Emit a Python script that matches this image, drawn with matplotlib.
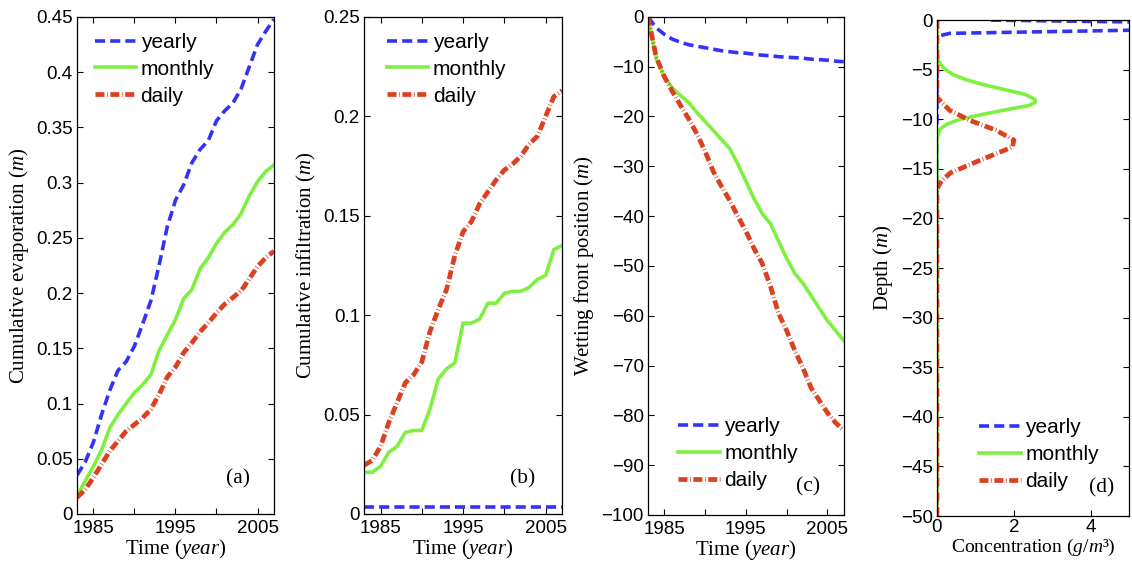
import numpy as np
import matplotlib.pyplot as plt

plt.rcParams['font.family'] = ['Liberation Sans', 'DejaVu Sans']
plt.rcParams['mathtext.fontset'] = 'custom'
plt.rcParams['mathtext.rm'] = 'Liberation Serif'
plt.rcParams['mathtext.it'] = 'Liberation Serif:italic'

# time axis (years) for panels a-c
years = np.arange(1983, 2008)

# (a) cumulative evaporation, m
evap_yearly = [0.035, 0.047, 0.065, 0.090, 0.112, 0.130, 0.138, 0.152, 0.172, 0.193,
               0.225, 0.260, 0.284, 0.298, 0.318, 0.330, 0.338, 0.356, 0.365, 0.372,
               0.385, 0.405, 0.425, 0.437, 0.448]
evap_monthly = [0.016, 0.030, 0.043, 0.058, 0.078, 0.090, 0.100, 0.110, 0.117, 0.126,
                0.148, 0.162, 0.176, 0.195, 0.203, 0.222, 0.232, 0.245, 0.255, 0.262,
                0.272, 0.288, 0.301, 0.310, 0.316]
evap_daily = [0.015, 0.022, 0.033, 0.045, 0.057, 0.066, 0.075, 0.081, 0.087, 0.095,
              0.108, 0.124, 0.133, 0.146, 0.155, 0.165, 0.173, 0.182, 0.190, 0.196,
              0.202, 0.213, 0.224, 0.232, 0.238]

# (b) cumulative infiltration, m
infil_yearly = [0.0035, 0.0035, 0.0035, 0.0035, 0.0035, 0.0035, 0.0035, 0.0035, 0.0035,
                0.0035, 0.0035, 0.0035, 0.0035, 0.0035, 0.0035, 0.0035, 0.0035, 0.0035,
                0.0035, 0.0035, 0.0035, 0.0035, 0.0035, 0.0035, 0.0035]
infil_monthly = [0.021, 0.021, 0.024, 0.031, 0.034, 0.041, 0.042, 0.042, 0.053, 0.068,
                 0.073, 0.076, 0.096, 0.096, 0.098, 0.106, 0.106, 0.111, 0.112, 0.112,
                 0.114, 0.118, 0.120, 0.133, 0.135]
infil_daily = [0.0245, 0.027, 0.034, 0.046, 0.056, 0.066, 0.070, 0.0765, 0.092, 0.103,
               0.113, 0.130, 0.142, 0.147, 0.156, 0.162, 0.168, 0.173, 0.176, 0.180,
               0.186, 0.190, 0.200, 0.210, 0.213]

# (c) wetting front position, m
front_yearly = [0, -2.2, -3.5, -4.5, -5.1, -5.6, -5.9, -6.2, -6.5, -6.8, -7.0, -7.2, -7.3,
                -7.5, -7.7, -7.8, -8.0, -8.1, -8.2, -8.3, -8.5, -8.6, -8.7, -8.9, -9.0]
front_monthly = [0, -8.3, -12.0, -14.3, -15.8, -17.2, -19.2, -21.0, -22.8, -24.6, -26.4,
                 -29.5, -33.0, -36.5, -39.5, -41.5, -45.0, -48.5, -51.5, -53.5, -56.0,
                 -58.5, -61.0, -63.0, -65.0]
front_daily = [0, -8.0, -12.0, -15.0, -17.8, -20.5, -23.5, -27.0, -31.0, -34.0, -36.8,
               -40.0, -43.0, -46.5, -49.5, -54.0, -59.5, -63.0, -67.0, -70.5, -74.5,
               -77.0, -79.5, -81.5, -83.0]

# (d) concentration profiles: depth (m) and concentration (g/m3)
prof_yearly_depth = [0, -0.55, -1.34, -1.6, -2.0, -50]
prof_yearly_conc = [1.4, 12.0, 0.33, 0.05, 0, 0]
prof_monthly_depth = [0, -3.5, -4.0, -4.5, -5.0, -5.5, -6.0, -6.5, -7.0, -7.5, -8.0, -8.3,
                      -8.6, -9.0, -9.5, -10.0, -10.5, -11.0, -12.0, -50]
prof_monthly_conc = [0, 0, 0.03, 0.10, 0.22, 0.42, 0.75, 1.20, 1.75, 2.30, 2.55, 2.55,
                     2.40, 1.85, 1.20, 0.60, 0.25, 0.08, 0, 0]
prof_daily_depth = [0, -7.8, -8.2, -9.1, -10.1, -11.1, -12.1, -12.8, -14.0, -15.4, -16.2,
                    -17.0, -50]
prof_daily_conc = [0, 0, 0.10, 0.33, 0.85, 1.53, 2.00, 1.96, 1.20, 0.35, 0.12, 0, 0]

labels = ['yearly', 'monthly', 'daily']
blue, green, red = '#3333f8', '#80f040', '#dd4020'
styles = [dict(color=blue, lw=2.6, dashes=(2.8, 1.4)),
          dict(color=green, lw=2.6, linestyle='-'),
          dict(color=red, lw=3.4, dashes=(1.9, 0.55, 0.15, 0.55))]

fig = plt.figure(figsize=(11.32, 5.61), dpi=100)
positions = [[0.068, 0.0838, 0.174, 0.886],
             [0.3216, 0.0838, 0.175, 0.886],
             [0.5724, 0.082, 0.173, 0.888],
             [0.8277, 0.0802, 0.170, 0.884]]
axes = [fig.add_axes(p) for p in positions]

serif = 'Liberation Serif'
lab_size = 15


def style_axis(ax, xpad=4):
    ax.tick_params(direction='in', length=4, width=0.8, top=True, right=True,
                   labelsize=13.5)
    ax.tick_params(axis='x', pad=xpad)
    ax.tick_params(axis='y', pad=3)
    for sp in ax.spines.values():
        sp.set_linewidth(0.9)


def year_axis(ax):
    ax.set_xlim(1983, 2007)
    ax.set_xticks([1985, 1990, 1995, 2000, 2005])
    ax.set_xticklabels(['1985', '', '1995', '', '2005'])
    ax.set_xlabel('Time ($year$)', fontfamily=serif, fontsize=lab_size, labelpad=0.5)


def add_legend(ax, loc, anchor):
    ax.legend(labels, loc=loc, bbox_to_anchor=anchor, frameon=False, fontsize=15,
              handlelength=2.0, handletextpad=0.2, labelspacing=0.38,
              borderpad=0, borderaxespad=0)


def panel_tag(ax, x, y, s):
    ax.text(x, y, s, transform=ax.transAxes, fontfamily=serif, fontsize=15.5,
            ha='center', va='center')


# (a)
ax = axes[0]
for y, st in zip([evap_yearly, evap_monthly, evap_daily], styles):
    ax.plot(years, y, **st)
year_axis(ax)
ax.set_ylim(0, 0.45)
yt = [0, 0.05, 0.1, 0.15, 0.2, 0.25, 0.3, 0.35, 0.4, 0.45]
ax.set_yticks(yt)
ax.set_yticklabels([f'{v:g}' for v in yt])
ax.set_ylabel('Cumulative evaporation ($m$)', fontfamily=serif, fontsize=lab_size)
add_legend(ax, 'upper left', (0.09, 0.968))
panel_tag(ax, 0.82, 0.07, '(a)')

# (b)
ax = axes[1]
for y, st in zip([infil_yearly, infil_monthly, infil_daily], styles):
    ax.plot(years, y, **st)
year_axis(ax)
ax.set_ylim(0, 0.25)
yt = [0, 0.05, 0.1, 0.15, 0.2, 0.25]
ax.set_yticks(yt)
ax.set_yticklabels([f'{v:g}' for v in yt])
ax.set_ylabel('Cumulative infiltration ($m$)', fontfamily=serif, fontsize=lab_size)
add_legend(ax, 'upper left', (0.115, 0.968))
panel_tag(ax, 0.80, 0.07, '(b)')

# (c)
ax = axes[2]
for y, st in zip([front_yearly, front_monthly, front_daily], styles):
    ax.plot(years, y, **st)
year_axis(ax)
ax.set_ylim(-100, 0)
ax.set_yticks(np.arange(-100, 1, 10))
ax.set_ylabel('Wetting front position ($m$)', fontfamily=serif, fontsize=lab_size)
add_legend(ax, 'lower left', (0.155, 0.05))
panel_tag(ax, 0.82, 0.056, '(c)')

# (d)
ax = axes[3]
for c, d, st in zip([prof_yearly_conc, prof_monthly_conc, prof_daily_conc],
                    [prof_yearly_depth, prof_monthly_depth, prof_daily_depth], styles):
    ax.plot(c, d, **st)
ax.set_xlim(0, 5)
ax.set_xticks([0, 2, 4])
ax.set_ylim(-50, 0)
ax.set_yticks(np.arange(-50, 1, 5))
ax.set_xlabel('Concentration ($g/m$³)', fontfamily=serif, fontsize=14, labelpad=0)
ax.set_ylabel('Depth ($m$)', fontfamily=serif, fontsize=lab_size)
add_legend(ax, 'lower left', (0.22, 0.05))
panel_tag(ax, 0.855, 0.057, '(d)')

for i, ax in enumerate(axes):
    style_axis(ax, xpad=2.5 if i == 3 else 4)

fig.savefig('out.png', dpi=100)
